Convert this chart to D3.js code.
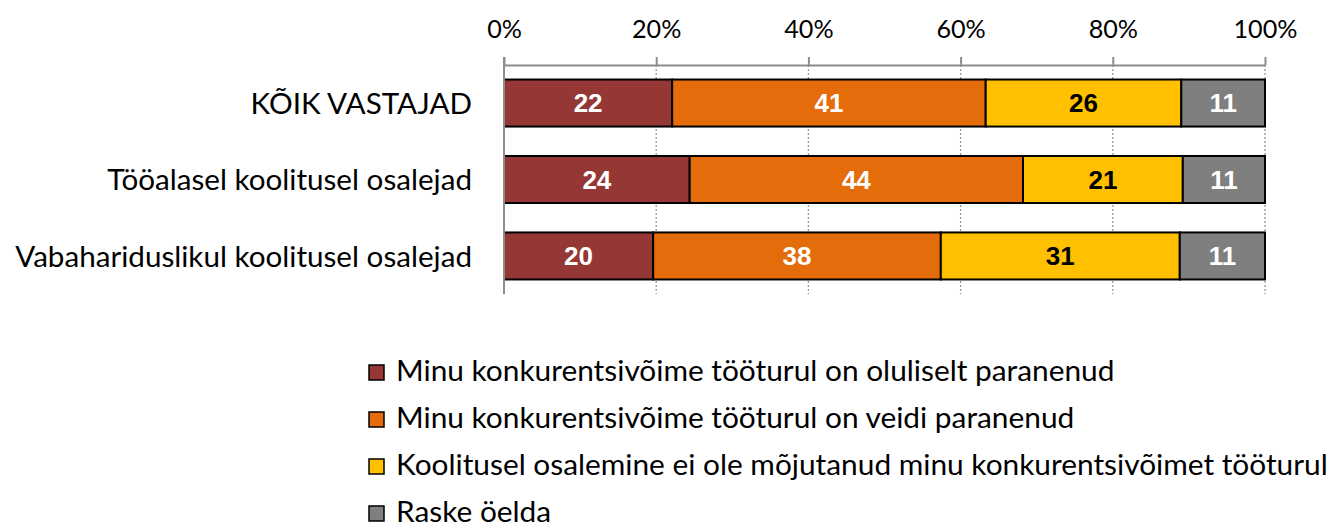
<!DOCTYPE html>
<html><head><meta charset="utf-8">
<script src="https://cdn.jsdelivr.net/npm/d3@7"></script>
<style>body{margin:0;background:#fff}svg{display:block}</style>
</head><body>
<svg id="c" width="1334" height="527"></svg>
<script>
const categories = ["KÕIK VASTAJAD", "Tööalasel koolitusel osalejad", "Vabahariduslikul koolitusel osalejad"];
const seriesNames = [
  "Minu konkurentsivõime tööturul on oluliselt paranenud",
  "Minu konkurentsivõime tööturul on veidi paranenud",
  "Koolitusel osalemine ei ole mõjutanud minu konkurentsivõimet tööturul",
  "Raske öelda"
];
const significantly = [22.1, 24.4, 19.6];
const slightly = [41.2, 43.8, 37.8];
const noEffect = [25.7, 21.0, 31.4];
const hardToSay = [11.0, 10.8, 11.2];
const tickValues = [0, 20, 40, 60, 80, 100];
const colors = ["#953735", "#E46C0A", "#FFC000", "#7F7F7F"];
const labelColors = ["#fff", "#fff", "#000", "#fff"];

const series = [significantly, slightly, noEffect, hardToSay];
const svg = d3.select("#c");
const font = "Lato, 'Open Sans', sans-serif";
const x = d3.scaleLinear().domain([0, 100]).range([504, 1265]);
const y = d3.scaleBand().domain(categories).range([65, 294]).paddingInner(0.385).paddingOuter(0.19);

function fit(sel, target) {
  // scale font size so the widest text in the selection spans the target width
  let w = 0; sel.each(function(){ w = Math.max(w, this.getComputedTextLength()); });
  const fs = parseFloat(sel.attr("font-size"));
  sel.attr("font-size", fs * target / w);
}

// gridlines
svg.append("g").selectAll("line").data(tickValues.slice(1)).join("line")
  .attr("x1", d => x(d)).attr("x2", d => x(d)).attr("y1", 65).attr("y2", 294)
  .attr("stroke", "#999").attr("stroke-width", 1.3).attr("stroke-dasharray", "2,2");

// axis top
const ax = svg.append("g").attr("transform", "translate(0,65)")
  .call(d3.axisTop(x).tickValues(tickValues).tickFormat(d => d + "%").tickSize(8).tickSizeOuter(0));
ax.select(".domain").attr("stroke", "#8c8c8c").attr("stroke-width", 2);
ax.selectAll(".tick line").attr("stroke", "#8c8c8c").attr("stroke-width", 2);
const tt = ax.selectAll(".tick text").attr("font-family", font).attr("font-size", 22).attr("fill", "#000").attr("y", -27);
fit(tt, 64);

// stacked data
const stacked = categories.map((c, i) => {
  let acc = 0;
  return series.map((s, k) => { const r = {cat: c, k, v: s[i], x0: acc, x1: acc + s[i]}; acc += s[i]; return r; });
}).flat();

svg.append("g").selectAll("rect").data(stacked).join("rect")
  .attr("x", d => x(d.x0)).attr("width", d => x(d.x1) - x(d.x0))
  .attr("y", d => y(d.cat)).attr("height", y.bandwidth())
  .attr("fill", d => colors[d.k]).attr("stroke", "#000").attr("stroke-width", 2);

svg.append("g").selectAll("text").data(stacked).join("text")
  .attr("x", d => (x(d.x0) + x(d.x1)) / 2).attr("y", d => y(d.cat) + y.bandwidth() / 2)
  .attr("dy", "0.36em").attr("text-anchor", "middle")
  .attr("font-family", "'Liberation Sans', Arial, sans-serif").attr("font-weight", "bold").attr("font-size", 26)
  .attr("fill", d => labelColors[d.k]).text(d => d3.format(".0f")(d.v));

// vertical axis line
svg.append("line").attr("x1", 504).attr("x2", 504).attr("y1", 57).attr("y2", 294)
  .attr("stroke", "#8c8c8c").attr("stroke-width", 2);

// category labels
const cl = svg.append("g").selectAll("text").data(categories).join("text")
  .attr("x", 472).attr("y", d => y(d) + y.bandwidth() / 2).attr("dy", "0.36em")
  .attr("text-anchor", "end").attr("font-family", font).attr("font-size", 22).attr("fill", "#000").text(d => d);
fit(cl, 457);

// legend
const lg = svg.append("g").selectAll("g").data(seriesNames).join("g")
  .attr("transform", (d, i) => `translate(369,${373 + i * 47})`);
lg.append("rect").attr("x", 0).attr("y", -8).attr("width", 15).attr("height", 15)
  .attr("fill", (d, i) => colors[i]).attr("stroke", "#000").attr("stroke-width", 1.5);
const lt = lg.append("text").attr("x", 27).attr("y", 8)
  .attr("font-family", font).attr("font-size", 22).attr("fill", "#000").text(d => d);
fit(lt, 932);
</script>
</body></html>
